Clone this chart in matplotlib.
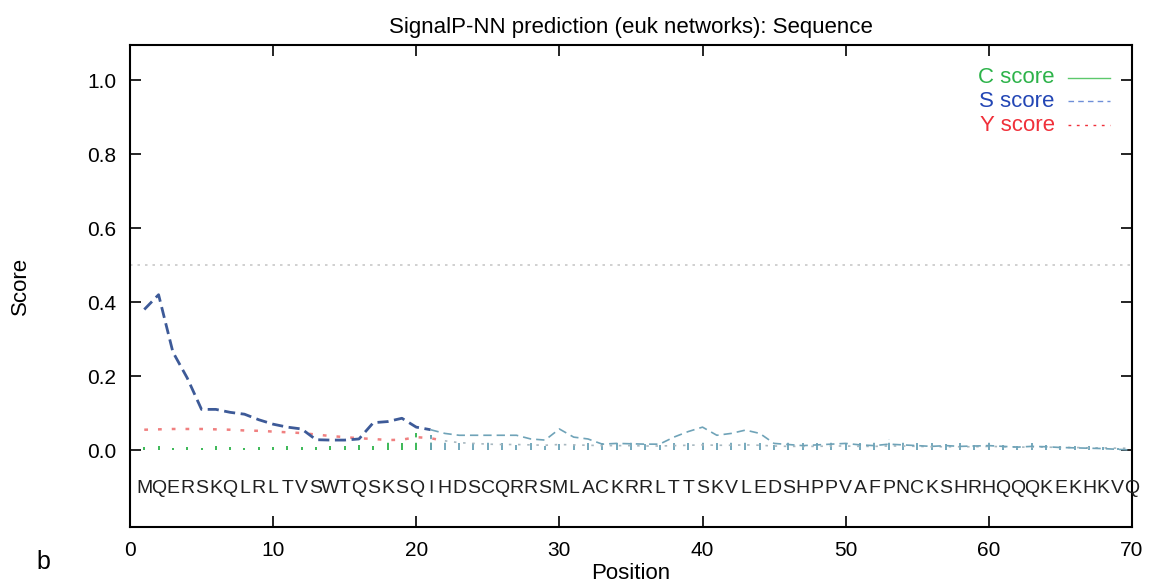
"""SignalP-NN 预测图"""

import matplotlib
matplotlib.use("Agg")
import matplotlib.pyplot as plt

plt.rcParams['font.family'] = ['Liberation Sans', 'DejaVu Sans']

# 序列与三组得分
sequence = "MQERSKQLRLTVSWTQSKSQIHDSCQRRSMLACKRRLTTSKVLEDSHPPVAFPNCKSHRHQQQKEKHKVQ"
positions = list(range(1, 71))

c_score = [0.008, 0.010, 0.006, 0.008, 0.005, 0.010, 0.008, 0.006, 0.009, 0.007,
           0.010, 0.008, 0.009, 0.010, 0.011, 0.015, 0.012, 0.030, 0.018, 0.045,
           0.040, 0.025, 0.020, 0.018, 0.022, 0.020, 0.015, 0.018, 0.012, 0.016,
           0.014, 0.018, 0.020, 0.018, 0.022, 0.016, 0.014, 0.018, 0.020, 0.025,
           0.018, 0.022, 0.025, 0.020, 0.015, 0.022, 0.018, 0.020, 0.024, 0.020,
           0.018, 0.025, 0.030, 0.028, 0.020, 0.018, 0.016, 0.020, 0.015, 0.025,
           0.014, 0.012, 0.018, 0.014, 0.012, 0.010, 0.012, 0.008, 0.006, 0.004]

s_score = [0.380, 0.420, 0.265, 0.195, 0.110, 0.110, 0.102, 0.097, 0.082, 0.070,
           0.062, 0.057, 0.028, 0.027, 0.027, 0.030, 0.074, 0.077, 0.086, 0.062,
           0.055, 0.045, 0.040, 0.040, 0.040, 0.040, 0.040, 0.030, 0.027, 0.057,
           0.035, 0.030, 0.016, 0.018, 0.017, 0.016, 0.016, 0.035, 0.050, 0.062,
           0.040, 0.045, 0.054, 0.045, 0.018, 0.015, 0.012, 0.014, 0.016, 0.018,
           0.014, 0.012, 0.016, 0.014, 0.012, 0.010, 0.012, 0.010, 0.011, 0.012,
           0.010, 0.008, 0.010, 0.009, 0.007, 0.006, 0.005, 0.004, 0.002, 0.000]

y_score = [0.055, 0.056, 0.057, 0.057, 0.057, 0.056, 0.055, 0.053, 0.052, 0.050,
           0.048, 0.046, 0.042, 0.038, 0.035, 0.032, 0.030, 0.027, 0.028, 0.035,
           0.032, 0.025, 0.020, 0.018, 0.016, 0.015, 0.015, 0.014, 0.013, 0.015,
           0.014, 0.013, 0.012, 0.012, 0.012, 0.011, 0.011, 0.012, 0.013, 0.014,
           0.013, 0.013, 0.014, 0.013, 0.011, 0.010, 0.010, 0.010, 0.011, 0.011,
           0.010, 0.010, 0.011, 0.011, 0.010, 0.009, 0.009, 0.009, 0.009, 0.010,
           0.009, 0.008, 0.008, 0.008, 0.007, 0.007, 0.006, 0.006, 0.005, 0.005]

c_col = '#2db34a'
s_col = '#2346b5'
y_col = '#f0303a'

fig = plt.figure(figsize=(11.52, 5.87), dpi=100)
ax = fig.add_axes([0.1128, 0.1022, 0.8698, 0.8211])

# 0.5 阈值线
ax.axhline(0.5, color='#c8c8c8', linestyle=(0, (1.5, 3)), linewidth=1.2)

# C 得分用竖线（脉冲）画出
ax.vlines(positions[:21], 0, c_score[:21], color=c_col, linewidth=1.3, linestyles=(0, (4, 3)))
ax.vlines(positions[20:], 0, c_score[20:], color='#6aa2b8', linewidth=1.3, linestyles=(0, (4, 2)))

# Y 和 S 得分
ax.plot(positions[:22], y_score[:22], color='#f08080', linestyle=(0, (1.5, 4)), linewidth=1.8)
ax.plot(positions[21:], y_score[21:], color='#a8b8c0', linestyle=(0, (1.5, 4)), linewidth=1.2)
ax.plot(positions[:21], s_score[:21], color='#3d5a98', linestyle=(0, (4, 2)), linewidth=2.0)
ax.plot(positions[20:], s_score[20:], color='#6fa3b8', linestyle=(0, (5, 3)), linewidth=1.2)

# 序列字母
for p, aa in zip(positions, sequence):
    ax.text(p, -0.105, aa, ha='center', va='center', fontsize=14, color='#202020')

# 图例
ax.text(0.923, 0.932, "C score", transform=ax.transAxes, ha='right', va='center', fontsize=16, color=c_col)
ax.text(0.923, 0.883, "S score", transform=ax.transAxes, ha='right', va='center', fontsize=16, color=s_col)
ax.text(0.923, 0.834, "Y score", transform=ax.transAxes, ha='right', va='center', fontsize=16, color=y_col)
ax.plot([0.936, 0.978], [0.932, 0.932], transform=ax.transAxes, color='#5cc86c', linewidth=1.0)
ax.plot([0.936, 0.978], [0.883, 0.883], transform=ax.transAxes, color='#6f8fd8', linewidth=1.0, linestyle=(0, (4, 3)))
ax.plot([0.936, 0.978], [0.834, 0.834], transform=ax.transAxes, color=y_col, linewidth=1.0, linestyle=(0, (2, 4)))

ax.set_xlim(0, 70)
ax.set_ylim(-0.208, 1.095)
ax.set_xticks(range(0, 71, 10))
ax.set_yticks([0.0, 0.2, 0.4, 0.6, 0.8, 1.0])
ax.set_yticklabels(['0.0', '0.2', '0.4', '0.6', '0.8', '1.0'])
ax.tick_params(axis='both', direction='in', length=8, width=1.2, labelsize=15,
               top=True, right=True, pad=10)
for sp in ax.spines.values():
    sp.set_linewidth(1.5)

ax.set_title("SignalP-NN prediction (euk networks): Sequence", fontsize=16, pad=9)
ax.set_xlabel("Position", fontsize=16, labelpad=2)
ax.set_ylabel("Score", fontsize=16, labelpad=40)
fig.text(0.032, 0.03, "b", fontsize=18)

fig.savefig("out.png", dpi=100)
